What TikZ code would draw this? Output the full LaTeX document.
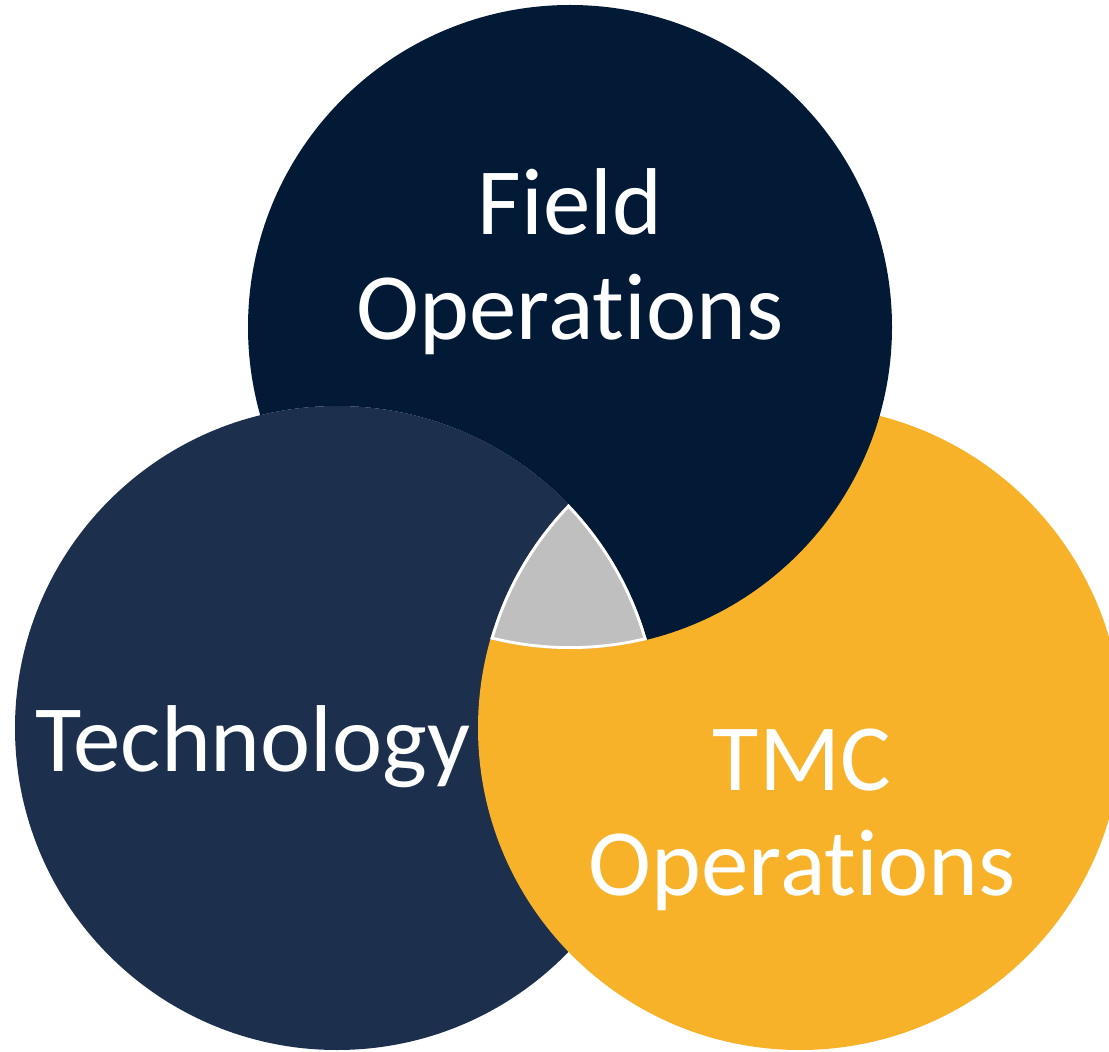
\documentclass[tikz,border=0pt]{standalone}
\usepackage{fontspec}
\setmainfont{Carlito}[Ligatures=NoCommon]
\definecolor{fieldblue}{HTML}{021A35}
\definecolor{techblue}{HTML}{1C304D}
\definecolor{tmcgold}{HTML}{F8B229}
\definecolor{centregrey}{HTML}{BFBFBF}
\begin{document}
\begin{tikzpicture}[x=0.01cm, y=-0.01cm,
    every node/.style={text=white, align=center, inner sep=0pt,
      font=\fontsize{27}{29.8}\selectfont}]
      \useasboundingbox (0,0) rectangle (1109,1052);
      \def\rad{322}
      \coordinate (field) at (570,327);
      \coordinate (tech) at (337,728);
      \coordinate (tmc) at (800,728);
      \fill[techblue] (tech) circle[radius=\rad];
      \fill[tmcgold] (tmc) circle[radius=\rad];
      % field over tmc, but kept off technology
      \begin{scope}[even odd rule]
        \clip (-200,-200) rectangle (1400,1300) (tech) circle[radius=\rad];
        \fill[fieldblue] (field) circle[radius=\rad];
      \end{scope}
      % centre piece
      \begin{scope}
        \clip (tech) circle[radius=\rad];
        \clip (field) circle[radius=\rad];
        \clip (tmc) circle[radius=\rad];
        \fill[centregrey] (field) circle[radius=\rad];
        \foreach \c in {field, tech, tmc}
          \draw[white, line width=1.6pt] (\c) circle[radius=\rad];
      \end{scope}
      \node (fieldlabel) at (570,262) {Field\\Operations};
      \node (techlabel) [anchor=base] at (253,771) {Technology};
      \node (tmclabel) at (802,820) {TMC\\Operations};
    \end{tikzpicture}
\end{document}
